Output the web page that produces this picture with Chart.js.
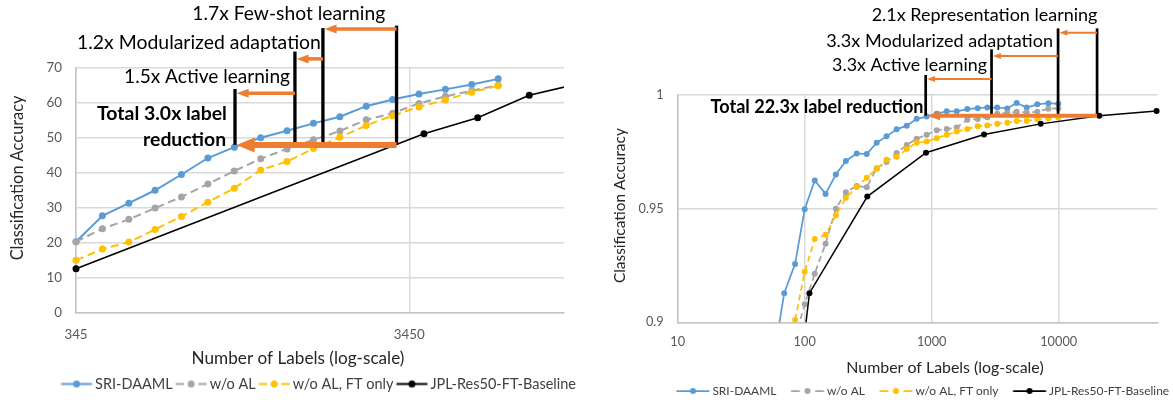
<!DOCTYPE html>
<html>
<head>
<meta charset="utf-8">
<script src="https://cdn.jsdelivr.net/npm/chart.js@4.4.1/dist/chart.umd.min.js"></script>
<style>
  html, body { margin: 0; padding: 0; background: #ffffff; width: 1173px; height: 402px; overflow: hidden; position: relative; }
  canvas { position: absolute; top: 0; display: block; }
  #leftChart { left: 0; }
  #rightChart { left: 590px; }
</style>
</head>
<body>
<canvas id="leftChart" width="638" height="402"></canvas>
<canvas id="rightChart" width="655" height="410"></canvas>
<script>
// ================= DATA =================
const seriesNames = ['SRI-DAAML', 'w/o AL', 'w/o AL, FT only', 'JPL-Res50-FT-Baseline'];

// ---- left panel ----
const leftLabels = [345, 414, 497, 596, 715, 858, 1030, 1236, 1483, 1780, 2136, 2563, 3075, 3690, 4428, 5314, 6377];
const leftSRI    = [20.2, 27.6, 31.2, 34.9, 39.4, 44.1, 47.2, 49.9, 51.9, 54.0, 55.9, 58.9, 60.8, 62.4, 63.7, 65.1, 66.7];
const leftNoAL   = [20.2, 23.9, 26.6, 29.8, 33.0, 36.7, 40.4, 43.9, 46.7, 49.3, 51.8, 55.0, 56.9, 59.7, 61.7, 63.3, 64.9];
const leftFTOnly = [14.9, 18.1, 20.1, 23.7, 27.4, 31.5, 35.5, 40.7, 43.1, 46.8, 50.0, 53.4, 56.2, 58.7, 60.7, 62.9, 64.7];
const leftBaseLabels = [345, 3820, 5535, 7905, 11300];
const leftBase       = [12.5, 51.0, 55.6, 62.0, 65.5];
const leftXTicks = [345, 3450];
const leftYTicks = [0, 10, 20, 30, 40, 50, 60, 70];

// ---- right panel ----
const rightLabels = [58, 69, 84, 100, 120, 146, 176, 211, 257, 308, 369, 441, 530, 636, 762, 913, 1095, 1313, 1574, 1907, 2302, 2740, 3284, 3937, 4670, 5598, 6784, 8282, 9930];
const rightSRI    = [0.887, 0.9128, 0.9257, 0.9497, 0.9624, 0.9565, 0.9650, 0.9710, 0.9743, 0.9740, 0.9790, 0.9818, 0.9849, 0.9865, 0.9895, 0.9905, 0.9918, 0.9928, 0.9928, 0.9938, 0.9942, 0.9945, 0.9945, 0.9941, 0.9965, 0.9945, 0.9959, 0.9964, 0.9961];
const rightNoAL   = [null, null, 0.893, 0.9079, 0.9214, 0.9346, 0.9500, 0.9572, 0.9600, 0.9594, 0.9678, 0.9705, 0.9745, 0.9780, 0.9808, 0.9825, 0.9845, 0.9850, 0.9857, 0.9891, 0.9894, 0.9902, 0.9918, 0.9921, 0.9926, 0.9924, 0.9926, 0.9940, 0.9941];
const rightFTOnly = [null, null, 0.9010, 0.9222, 0.9366, 0.9385, 0.9471, 0.9548, 0.9595, 0.9636, 0.9675, 0.9715, 0.9728, 0.9762, 0.9790, 0.9795, 0.9810, 0.9825, 0.9839, 0.9850, 0.9862, 0.9866, 0.9874, 0.9878, 0.9886, 0.9887, 0.9893, 0.9898, 0.9901];
const rightBaseLabels = [100, 109, 311, 902, 2582, 7215, 20890, 59000];
const rightBase       = [0.895, 0.9128, 0.9553, 0.9746, 0.9826, 0.9873, 0.9909, 0.9930];
const rightXTicks = [10, 100, 1000, 10000];
const rightYTicks = [0.9, 0.95, 1];

// annotation content
const leftReductionText = ['1.7x Few-shot learning', '1.2x Modularized adaptation', '1.5x Active learning', 'Total 3.0x label', 'reduction'];
const rightReductionText = ['2.1x Representation learning', '3.3x Modularized adaptation', '3.3x Active learning', 'Total 22.3x label reduction'];

// ================= STYLE / HELPERS =================
const FAMILY = 'Lato, "Liberation Sans", sans-serif';
const CAP = 0.72;
Chart.defaults.font.family = FAMILY;
const COLORS = ['#5B9BD5', '#A5A5A5', '#FFC000', '#000000'];
const ORANGE = '#ED7D31';

const measureCtx = document.createElement('canvas').getContext('2d');
function fitSize(text, width, weight) {
  measureCtx.font = (weight || 'normal') + ' 100px ' + FAMILY;
  return 100 * width / measureCtx.measureText(text).width;
}
const pts = (xs, ys) => xs.map((x, i) => ({ x: x, y: ys[i] })).filter(p => p.y !== null);

function makeIcon(color, dashed, lw, r, sw, off, bw) {
  const half = Math.max(Math.abs(off - bw / 2), Math.abs(off + sw - bw / 2));
  const cw = Math.ceil(2 * half) + 2, ch = Math.ceil(2 * r) + 4;
  const a = off - bw / 2 + cw / 2;
  const c = document.createElement('canvas'); c.width = cw; c.height = ch;
  const g = c.getContext('2d'); const cy = ch / 2;
  g.strokeStyle = color; g.lineWidth = lw;
  if (dashed) {
    const d = sw * 0.27;
    g.beginPath(); g.moveTo(a, cy); g.lineTo(a + d, cy); g.moveTo(a + sw - d, cy); g.lineTo(a + sw, cy); g.stroke();
  } else {
    g.beginPath(); g.moveTo(a, cy); g.lineTo(a + sw, cy); g.stroke();
  }
  g.fillStyle = color; g.beginPath(); g.arc(a + sw / 2, cy, r, 0, Math.PI * 2); g.fill();
  return c;
}

function makeAnnotations(cfg) {
  return {
    id: 'labelReduction',
    afterDatasetsDraw(chart) {
      const ctx = chart.ctx, xs = chart.scales.x, ys = chart.scales.y;
      const px = v => xs.getPixelForValue(v), py = v => ys.getPixelForValue(v);
      ctx.save();
      ctx.lineCap = 'butt';
      ctx.strokeStyle = '#000'; ctx.lineWidth = cfg.lineWidth;
      cfg.vlines.forEach(l => { ctx.beginPath(); ctx.moveTo(px(l.x), py(l.from)); ctx.lineTo(px(l.x), py(l.to)); ctx.stroke(); });
      cfg.arrows.forEach(a => {
        const st = cfg.arrowStyles[a.size];
        const x0 = px(a.from), x1 = px(a.to) + cfg.lineWidth / 2, y = py(a.y);
        ctx.strokeStyle = ORANGE; ctx.fillStyle = ORANGE; ctx.lineWidth = st.width;
        ctx.beginPath(); ctx.moveTo(x0, y); ctx.lineTo(x1 + st.head - 1, y); ctx.stroke();
        ctx.beginPath(); ctx.moveTo(x1, y); ctx.lineTo(x1 + st.head, y - st.headW / 2); ctx.lineTo(x1 + st.head, y + st.headW / 2); ctx.closePath(); ctx.fill();
      });
      cfg.texts.forEach(t => {
        const weight = t.bold ? 'bold' : 'normal';
        const size = fitSize(t.text, t.w, weight);
        ctx.font = weight + ' ' + size + 'px ' + FAMILY;
        ctx.fillStyle = '#000'; ctx.textAlign = 'right'; ctx.textBaseline = 'alphabetic';
        ctx.fillText(t.text, px(t.x), py(t.y) + size * CAP / 2);
      });
      ctx.restore();
    }
  };
}

function makeTitleShift(shifts) {
  return {
    id: 'shiftTitles',
    beforeDraw(chart) {
      Object.keys(shifts).forEach(id => {
        const s = chart.scales[id]; if (!s || s.__shifted) return;
        const o = shifts[id], orig = s.drawTitle;
        s.drawTitle = function () { const c = this.ctx; c.save(); c.translate(o.dx, o.dy); orig.apply(this, arguments); c.restore(); };
        s.__shifted = true;
      });
    }
  };
}

function lineDataset(i, xs, ys, lw, r, dash, clip) {
  return {
    label: seriesNames[i], data: pts(xs, ys),
    borderColor: COLORS[i], backgroundColor: COLORS[i], borderWidth: lw, borderDash: dash,
    pointRadius: r, pointHoverRadius: r, pointBackgroundColor: COLORS[i], pointBorderColor: COLORS[i], pointBorderWidth: 0,
    tension: 0, order: 4 - i, clip: clip
  };
}

function buildChart(canvasId, P) {
  const tickFs = fitSize(P.tickSample, P.tickSampleW);
  const xtFs = fitSize('Number of Labels (log-scale)', P.xTitleW);
  const ytFs = fitSize('Classification Accuracy', P.yTitleW);
  const legFs = fitSize(seriesNames.join(''), P.legendTotalW);
  const legPad = 4;
  const bp = P.H - 10 - legFs / 2 - P.legendCenter;
  const legendTop = P.H - bp - (legFs + legPad + 10);
  const xScaleH = legendTop - P.bottom;
  const xTickPad = P.xTickCenter - P.bottom - tickFs * 1.2 / 2;
  const xTitlePb = legendTop - P.xTitleCenter - xtFs * 1.2 / 2;
  const yTitlePt = P.yTitleCenterX - ytFs * 1.2 / 2;
  const bw = P.legOff + P.legSw + 3 - legFs / 2;
  const icons = [0, 1, 2, 3].map(i => makeIcon(COLORS[i], i === 1 || i === 2, P.lw, P.r, P.legSw, P.legOff, bw));
  const grid = { color: '#d9d9d9', lineWidth: 1.5, drawTicks: false };
  const border = { color: '#c4c4c4', width: 1.5 };

  return new Chart(document.getElementById(canvasId), {
    type: 'line',
    data: {
      datasets: [
        lineDataset(0, P.labels, P.sri, P.lw, P.r, [], P.clip),
        lineDataset(1, P.labels, P.noal, P.lw, P.r, P.dash, P.clip),
        lineDataset(2, P.labels, P.ftonly, P.lw, P.r, P.dash, P.clip),
        lineDataset(3, P.baseLabels, P.base, P.blackLw, P.r, [], P.clip)
      ]
    },
    options: {
      responsive: false, animation: false, events: [],
      layout: { padding: { top: P.top, left: 0, right: 0, bottom: bp } },
      scales: {
        x: {
          type: 'logarithmic', min: P.xMin, max: P.xMax,
          afterBuildTicks: s => { s.ticks = P.xTicks.map(v => ({ value: v })); },
          afterFit: s => { s.height = xScaleH; },
          grid: grid, border: border,
          ticks: { padding: xTickPad, color: '#595959', font: { size: tickFs }, maxRotation: 0, autoSkip: false, callback: v => String(v) },
          title: { display: true, text: 'Number of Labels (log-scale)', color: '#262626', font: { size: xtFs }, padding: { top: 0, bottom: xTitlePb } }
        },
        y: {
          type: 'linear', min: P.yMin, max: P.yMax,
          afterBuildTicks: s => { s.ticks = P.yTicks.map(v => ({ value: v })); },
          afterFit: s => { s.width = P.left; },
          grid: grid, border: border,
          ticks: { padding: 14, color: '#595959', font: { size: tickFs }, callback: v => String(v) },
          title: { display: true, text: 'Classification Accuracy', color: '#262626', font: { size: ytFs }, padding: { top: yTitlePt, bottom: 0 } }
        },
        pad: {
          type: 'linear', position: 'right', display: true,
          grid: { display: false }, ticks: { display: false }, border: { display: false },
          afterFit: s => { s.width = P.W - P.right; }
        }
      },
      plugins: {
        tooltip: { enabled: false },
        legend: {
          position: 'bottom', align: 'center',
          labels: {
            usePointStyle: true, pointStyleWidth: bw, boxHeight: legFs, padding: legPad,
            color: '#404040', font: { size: legFs },
            generateLabels(chart) {
              const items = Chart.defaults.plugins.legend.labels.generateLabels(chart);
              items.forEach(it => { it.pointStyle = icons[it.datasetIndex]; });
              return items;
            },
            sort: (a, b) => a.datasetIndex - b.datasetIndex
          }
        }
      }
    },
    plugins: [makeAnnotations(P.annot), makeTitleShift(P.shift)]
  });
}

// ---------- left chart ----------
buildChart('leftChart', {
  W: 638, H: 402, top: 67.3, bottom: 312.5, left: 76, right: 564,
  labels: leftLabels, sri: leftSRI, noal: leftNoAL, ftonly: leftFTOnly, baseLabels: leftBaseLabels, base: leftBase,
  xMin: 345, xMax: 10050, yMin: 0, yMax: 70, xTicks: leftXTicks, yTicks: leftYTicks,
  tickSample: '3450', tickSampleW: 31, xTitleW: 213, yTitleW: 165, legendTotalW: 367,
  legendCenter: 384, xTickCenter: 335, xTitleCenter: 358, yTitleCenterX: 17.5,
  lw: 2, blackLw: 1.6, r: 3.5, dash: [8, 4.5], clip: { left: 6, top: 6, right: 0, bottom: 0 },
  legSw: 31, legOff: -1,
  shift: { x: { dx: -22, dy: 0 }, y: { dx: 0, dy: -12 } },
  annot: {
    lineWidth: 3.3,
    vlines: [ { x: 1035, from: 47.85, to: 63.8 }, { x: 1566, from: 47.85, to: 74.5 }, { x: 1900, from: 47.85, to: 81.2 }, { x: 3160, from: 47.85, to: 81.9 } ],
    arrowStyles: { small: { width: 3.5, head: 12, headW: 9 }, big: { width: 6, head: 18, headW: 15 } },
    arrows: [ { from: 3160, to: 1900, y: 80.9, size: 'small' }, { from: 1900, to: 1566, y: 72.4, size: 'small' }, { from: 1566, to: 1035, y: 62.6, size: 'small' }, { from: 3160, to: 1035, y: 47.85, size: 'big' } ],
    texts: [
      { text: leftReductionText[0], x: 2921, y: 85.5, w: 193 },
      { text: leftReductionText[1], x: 1874, y: 77.1, w: 244 },
      { text: leftReductionText[2], x: 1513, y: 67.4, w: 166 },
      { text: leftReductionText[3], x: 979, y: 56.9, w: 130, bold: true },
      { text: leftReductionText[4], x: 973, y: 49.6, w: 83, bold: true }
    ]
  }
});

// ---------- right chart ----------
buildChart('rightChart', {
  W: 655, H: 410, top: 95, bottom: 322.3, left: 87.7, right: 567.5,
  labels: rightLabels, sri: rightSRI, noal: rightNoAL, ftonly: rightFTOnly, baseLabels: rightBaseLabels, base: rightBase,
  xMin: 10, xMax: 60000, yMin: 0.9, yMax: 1, xTicks: rightXTicks, yTicks: rightYTicks,
  tickSample: '10000', tickSampleW: 37, xTitleW: 197.5, yTitleW: 155, legendTotalW: 303,
  legendCenter: 391, xTickCenter: 341.5, xTitleCenter: 367.7, yTitleCenterX: 30,
  lw: 1.75, blackLw: 1.5, r: 3, dash: [6, 4], clip: { left: 0, top: 6, right: 4, bottom: 0 },
  legSw: 33, legOff: 10.5,
  shift: { x: { dx: 27.4, dy: 0 }, y: { dx: 0, dy: -3 } },
  annot: {
    lineWidth: 2.7,
    vlines: [ { x: 897, from: 0.9909, to: 1.0088 }, { x: 2960, from: 0.9909, to: 1.0201 }, { x: 9890, from: 0.9909, to: 1.0293 }, { x: 20060, from: 0.9909, to: 1.0293 } ],
    arrowStyles: { small: { width: 2, head: 8, headW: 6 }, big: { width: 4, head: 13, headW: 9 } },
    arrows: [ { from: 20060, to: 9890, y: 1.0274, size: 'small' }, { from: 9890, to: 2960, y: 1.0172, size: 'small' }, { from: 2960, to: 897, y: 1.0070, size: 'small' }, { from: 20060, to: 897, y: 0.9909, size: 'big' } ],
    texts: [
      { text: rightReductionText[0], x: 20180, y: 1.0352, w: 226 },
      { text: rightReductionText[1], x: 9016, y: 1.0239, w: 227 },
      { text: rightReductionText[2], x: 2725, y: 1.0132, w: 155 },
      { text: rightReductionText[3], x: 861, y: 0.99485, w: 213, bold: true }
    ]
  }
});
</script>
</body>
</html>
